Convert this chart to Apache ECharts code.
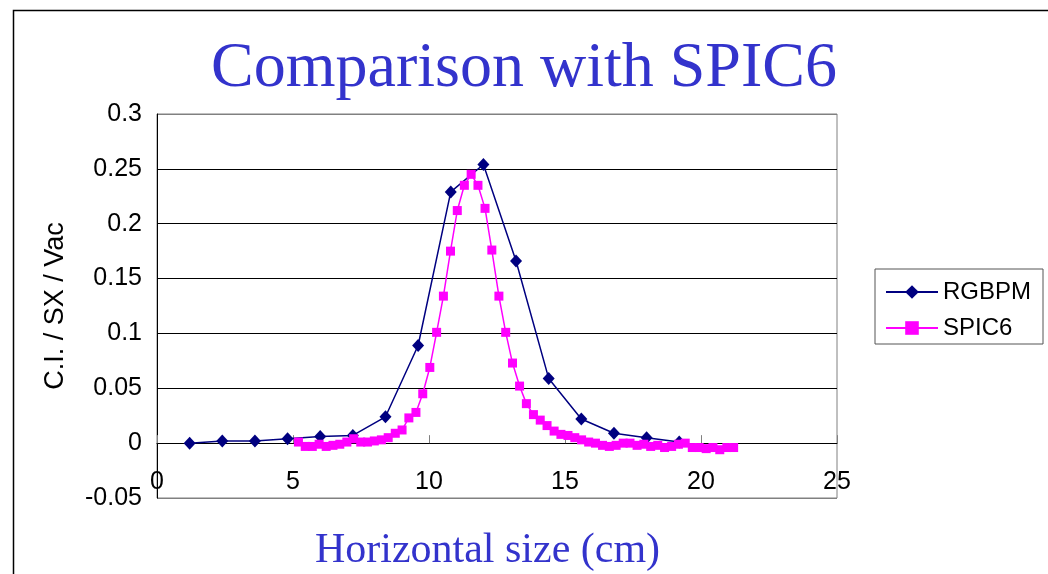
<!DOCTYPE html>
<html>
<head>
<meta charset="utf-8">
<script src="https://cdn.jsdelivr.net/npm/echarts@6/dist/echarts.min.js"></script>
<style>
html,body{margin:0;padding:0;background:#fff;}
#chart{width:1048px;height:574px;}
</style>
</head>
<body>
<div id="chart"></div>
<script>
// ---- data ----
const seriesNames = ['RGBPM', 'SPIC6'];

const rgbpmX = [1.2, 2.4, 3.6, 4.8, 6.0, 7.2, 8.4, 9.6, 10.8, 12.0, 13.2, 14.4, 15.6, 16.8, 18.0, 19.2];
const rgbpmY = [0.000, 0.002, 0.002, 0.004, 0.006, 0.007, 0.024, 0.089, 0.229, 0.254, 0.166, 0.059, 0.022, 0.009, 0.005, 0.001];

const spicX = [5.20, 5.45, 5.71, 5.96, 6.22, 6.47, 6.72, 6.98, 7.23, 7.49, 7.74, 7.99, 8.25, 8.50, 8.76,
  9.01, 9.26, 9.52, 9.77, 10.03, 10.28, 10.53, 10.79, 11.04, 11.30, 11.55, 11.80, 12.06, 12.31, 12.57,
  12.82, 13.07, 13.33, 13.58, 13.84, 14.09, 14.34, 14.60, 14.85, 15.11, 15.36, 15.61, 15.87, 16.12,
  16.38, 16.63, 16.88, 17.14, 17.39, 17.65, 17.90, 18.15, 18.41, 18.66, 18.92, 19.17, 19.42, 19.68,
  19.93, 20.19, 20.44, 20.69, 20.95, 21.20];
const spicY = [0.001, -0.003, -0.003, -0.001, -0.003, -0.002, -0.001, 0.001, 0.004, 0.001, 0.001, 0.002, 0.003, 0.005, 0.009,
  0.012, 0.023, 0.028, 0.045, 0.069, 0.101, 0.134, 0.175, 0.212, 0.235, 0.245, 0.235, 0.214, 0.176, 0.134,
  0.101, 0.073, 0.052, 0.036, 0.026, 0.021, 0.016, 0.011, 0.008, 0.007, 0.005, 0.003, 0.001, 0.000,
  -0.002, -0.003, -0.002, 0.000, 0.000, -0.002, -0.001, -0.003, -0.002, -0.004, -0.003, -0.001, 0.000, -0.004,
  -0.004, -0.005, -0.004, -0.006, -0.004, -0.004];

const xTicks = [0, 5, 10, 15, 20, 25];
const yTicks = [-0.05, 0, 0.05, 0.1, 0.15, 0.2, 0.25, 0.3];

const titleText = 'Comparison with SPIC6';
const xName = 'Horizontal size (cm)';
const yName = 'C.I. / SX / Vac';

// ---- chart ----
const pairs = (xs, ys) => xs.map((x, i) => [x, ys[i]]);
const sans = '"Liberation Sans", Arial, sans-serif';
const serif = '"Liberation Serif", "Times New Roman", serif';

const chart = echarts.init(document.getElementById('chart'), null, {renderer: 'canvas'});
chart.setOption({
  backgroundColor: '#ffffff',
  animation: false,
  title: {
    text: titleText,
    left: 'center',
    top: 32,
    textStyle: {fontFamily: serif, fontSize: 64, fontWeight: 'normal', color: '#3333CC'}
  },
  legend: {
    orient: 'vertical',
    left: 875,
    top: 269,
    padding: [11, 12, 4, 10],
    itemGap: 12,
    itemWidth: 52,
    itemHeight: 17,
    itemTextGap: 8,
    borderColor: '#555555',
    borderWidth: 1,
    textStyle: {fontFamily: sans, fontSize: 24, color: '#000'},
    data: seriesNames
  },
  grid: {
    left: 157, right: 211, top: 114, bottom: 76,
    show: true, borderColor: '#808080', borderWidth: 1,
    containLabel: false, outerBoundsMode: 'none'
  },
  xAxis: {
    type: 'value',
    min: xTicks[0], max: xTicks[xTicks.length - 1], interval: 5,
    name: xName,
    nameLocation: 'middle',
    nameGap: 32,
    nameTextStyle: {fontFamily: serif, fontSize: 42, color: '#3333CC', padding: [0, 19, 0, 0]},
    axisLine: {show: true, onZero: true, lineStyle: {color: '#000', width: 1}},
    axisTick: {show: true, inside: true, length: 8, lineStyle: {color: '#808080'}},
    axisLabel: {margin: -28, fontFamily: sans, fontSize: 25, color: '#000'},
    splitLine: {show: false}
  },
  yAxis: {
    type: 'value',
    min: yTicks[0], max: yTicks[yTicks.length - 1], interval: 0.05,
    name: yName,
    nameLocation: 'middle',
    nameGap: 88,
    nameRotate: 90,
    nameTextStyle: {fontFamily: sans, fontSize: 27, color: '#000'},
    axisLine: {show: true, lineStyle: {color: '#000', width: 1}},
    axisTick: {show: false},
    axisLabel: {margin: 15, fontFamily: sans, fontSize: 25, color: '#000',
      formatter: v => String(+v.toFixed(2))},
    splitLine: {show: true, lineStyle: {color: ['#808080', '#000', '#000', '#000', '#000', '#000', '#000', '#808080'], width: 1}}
  },
  graphic: [{
    type: 'polyline',
    shape: {points: [[13.5, 574], [13.5, 10.5], [1048, 10.5]]},
    style: {stroke: '#000', lineWidth: 1.5, fill: null},
    silent: true
  }],
  series: [
    {
      name: seriesNames[0],
      type: 'line',
      data: pairs(rgbpmX, rgbpmY),
      symbol: 'diamond',
      symbolSize: [12, 13],
      itemStyle: {color: '#000080'},
      lineStyle: {color: '#000080', width: 1.5},
      z: 3
    },
    {
      name: seriesNames[1],
      type: 'line',
      data: pairs(spicX, spicY),
      symbol: 'rect',
      symbolSize: 9,
      itemStyle: {color: '#FF00FF'},
      lineStyle: {color: '#FF00FF', width: 1.5},
      z: 4
    }
  ]
});
</script>
</body>
</html>
